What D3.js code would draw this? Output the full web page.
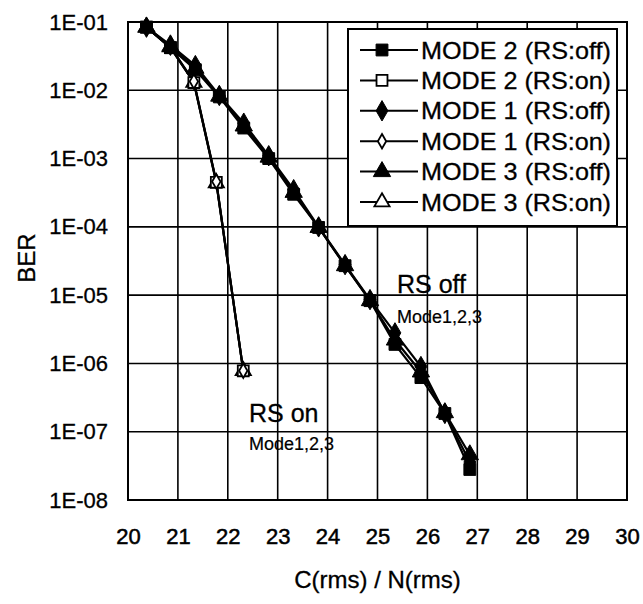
<!DOCTYPE html>
<html><head><meta charset="utf-8">
<script src="https://cdn.jsdelivr.net/npm/d3@7"></script>
<style>body{margin:0;background:#fff}svg{display:block}text{font-family:"Liberation Sans",Arial,Helvetica,sans-serif;fill:#000}</style>
</head><body>
<script>
// ---- data ----
const xTicks = [20,21,22,23,24,25,26,27,28,29,30];
const yTicks = [1e-1,1e-2,1e-3,1e-4,1e-5,1e-6,1e-7,1e-8];
const xOff = [20.37,20.85,21.35,21.83,22.32,22.82,23.32,23.82,24.35,24.85,25.35,25.87,26.35,26.85];
const xOn  = [20.37,20.85,21.32,21.77,22.31];
const mode2Off = [8.4e-2,4.2e-2,2.0e-2,8.0e-3,2.8e-3,1.0e-3,3.0e-4,9.8e-5,2.7e-5,8.3e-6,1.9e-6,6.2e-7,1.85e-7,2.8e-8];
const mode2On  = [8.4e-2,4.2e-2,1.3e-2,4.5e-4,7.8e-7];
const mode1Off = [8.4e-2,4.6e-2,2.3e-2,8.4e-3,3.3e-3,1.1e-3,3.5e-4,1.0e-4,2.8e-5,8.6e-6,2.8e-6,9.0e-7,1.85e-7,3.6e-8];
const mode1On  = [8.4e-2,4.3e-2,1.35e-2,4.6e-4,7.8e-7];
const mode3Off = [8.4e-2,4.4e-2,2.1e-2,8.2e-3,3.0e-3,1.05e-3,3.2e-4,9.8e-5,2.7e-5,8.3e-6,2.2e-6,7.5e-7,1.9e-7,4.6e-8];
const mode3On  = [8.4e-2,4.3e-2,1.3e-2,4.4e-4,7.8e-7];
const seriesNames = ["MODE 2 (RS:off)","MODE 2 (RS:on)","MODE 1 (RS:off)","MODE 1 (RS:on)","MODE 3 (RS:off)","MODE 3 (RS:on)"];
const xTitle = "C(rms) / N(rms)";
const yTitle = "BER";

const series = [
  {name: seriesNames[0], x: xOff, y: mode2Off, shape: "square", fill: true},
  {name: seriesNames[1], x: xOn,  y: mode2On,  shape: "square", fill: false},
  {name: seriesNames[2], x: xOff, y: mode1Off, shape: "diamond", fill: true},
  {name: seriesNames[3], x: xOn,  y: mode1On,  shape: "diamond", fill: false},
  {name: seriesNames[4], x: xOff, y: mode3Off, shape: "triangle", fill: true},
  {name: seriesNames[5], x: xOn,  y: mode3On,  shape: "triangle", fill: false}
];

const W = 643, H = 604;
const L = 128, R = 627, T = 22, B = 500;
const svg = d3.select("body").append("svg").attr("width", W).attr("height", H);

const x = d3.scaleLinear().domain([20,30]).range([L,R]);
const y = d3.scaleLog().domain([1e-8,1e-1]).range([B,T]);

// grid
const g = svg.append("g");
g.selectAll("line.vg").data(xTicks).join("line")
  .attr("x1", d => x(d)).attr("x2", d => x(d)).attr("y1", T).attr("y2", B)
  .attr("stroke", "#000").attr("stroke-width", 1.6);
g.selectAll("line.hg").data(yTicks).join("line")
  .attr("y1", d => y(d)).attr("y2", d => y(d)).attr("x1", L).attr("x2", R)
  .attr("stroke", "#000").attr("stroke-width", 1.6);
svg.append("rect").attr("x", L).attr("y", T).attr("width", R-L).attr("height", B-T)
  .attr("fill", "none").attr("stroke", "#000").attr("stroke-width", 2);

// axes labels
const fmt = d => "1E-" + String(Math.round(-Math.log10(d))).padStart(2,"0");
const yAxis = d3.axisLeft(y).tickValues(yTicks).tickFormat(fmt).tickSize(0).tickPadding(20);
const ya = svg.append("g").attr("transform", `translate(${L},0)`).call(yAxis);
ya.select(".domain").remove();
ya.selectAll("text").style("font-size", "22px").style("font-family", '"Liberation Sans",Arial,sans-serif')
  .attr("stroke", "#000").attr("stroke-width", 0.3);

const xAxis = d3.axisBottom(x).tickValues(xTicks).tickFormat(d3.format("d")).tickSize(0).tickPadding(28);
const xa = svg.append("g").attr("transform", `translate(0,${B})`).call(xAxis);
xa.select(".domain").remove();
xa.selectAll("text").style("font-size", "22px").style("font-family", '"Liberation Sans",Arial,sans-serif')
  .attr("stroke", "#000").attr("stroke-width", 0.5);

svg.append("text").attr("x", (L+R)/2).attr("y", 588).attr("text-anchor", "middle")
  .style("font-size", "24px").attr("stroke", "#000").attr("stroke-width", 0.3).text(xTitle);
svg.append("text").attr("transform", "translate(35,258) rotate(-90)").attr("text-anchor", "middle")
  .style("font-size", "24px").attr("stroke", "#000").attr("stroke-width", 0.3).text(yTitle);

// markers
const symSize = {square: 140, diamond: 120, triangle: 130};
function marker(sel, s) {
  const type = s.shape === "square" ? d3.symbolSquare : s.shape === "diamond" ? d3.symbolDiamond : d3.symbolTriangle;
  let size = symSize[s.shape];
  if (!s.fill && s.shape === "diamond") size = 60;
  if (!s.fill && s.shape === "square") size = 120;
  if (!s.fill && s.shape === "triangle") size = 100;
  sel.attr("d", d3.symbol().type(type).size(size)())
    .attr("fill", s.fill ? "#000" : "#fff").attr("stroke", "#000").attr("stroke-width", s.fill ? 1 : 1.8);
}

const line = d3.line().x(d => x(d[0])).y(d => y(d[1]));
const order = [5,1,3,0,2,4];
order.forEach(i => {
  const s = series[i];
  const pts = s.x.map((v, k) => [v, s.y[k]]);
  svg.append("path").datum(pts).attr("d", line).attr("fill", "none")
    .attr("stroke", "#000").attr("stroke-width", 2.2);
});
order.forEach(i => {
  const s = series[i];
  const pts = s.x.map((v, k) => [v, s.y[k]]);
  svg.append("g").selectAll("path").data(pts).join("path")
    .attr("transform", d => `translate(${x(d[0])},${y(d[1])})`)
    .call(sel => marker(sel, s));
});

// annotations
svg.append("text").attr("x", 397).attr("y", 293).style("font-size", "25px").attr("stroke", "#000").attr("stroke-width", 0.3).text("RS off");
svg.append("text").attr("x", 397).attr("y", 323).style("font-size", "18px").attr("stroke", "#000").attr("stroke-width", 0.2).text("Mode1,2,3");
svg.append("text").attr("x", 249).attr("y", 422).style("font-size", "25px").attr("stroke", "#000").attr("stroke-width", 0.3).text("RS on");
svg.append("text").attr("x", 249).attr("y", 450).style("font-size", "18px").attr("stroke", "#000").attr("stroke-width", 0.2).text("Mode1,2,3");

// legend
const lg = svg.append("g");
lg.append("rect").attr("x", 348).attr("y", 29).attr("width", 269).attr("height", 197)
  .attr("fill", "#fff").attr("stroke", "#000").attr("stroke-width", 2);
series.forEach((s, i) => {
  const cy = 50 + i * 30.4;
  lg.append("line").attr("x1", 360).attr("x2", 418).attr("y1", cy).attr("y2", cy)
    .attr("stroke", "#000").attr("stroke-width", 2);
  lg.append("path").attr("transform", `translate(382,${cy})`).call(sel => marker(sel, s));
  lg.append("text").attr("x", 421).attr("y", cy).attr("dy", "0.36em")
    .style("font-size", "24px").attr("stroke", "#000").attr("stroke-width", 0.3)
    .attr("textLength", 190).attr("lengthAdjust", "spacingAndGlyphs").text(s.name);
});
</script>
</body></html>
